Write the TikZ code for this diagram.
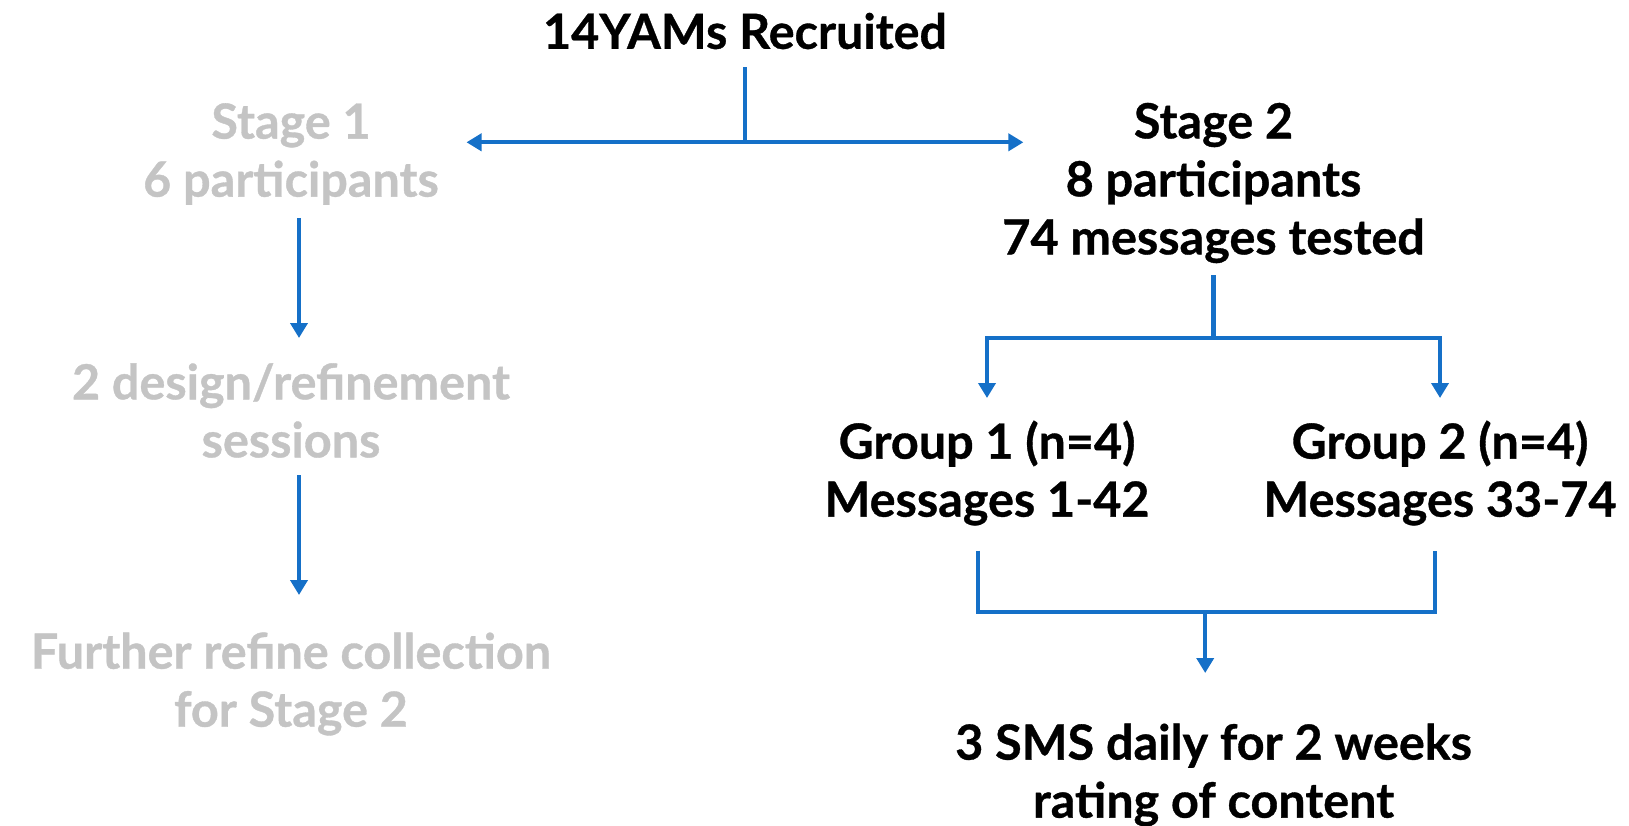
\documentclass[tikz,border=0pt]{standalone}
\usepackage{fontspec}
\setmainfont{Lato}[BoldFeatures={FakeBold=0.7}]
\usetikzlibrary{arrows.meta}
\definecolor{flowblue}{HTML}{1570C8}
\definecolor{fadegrey}{HTML}{C4C4C4}
\tikzset{
  txt/.style={font=\fontsize{48.5}{58}\selectfont\bfseries, align=center, inner sep=0pt},
  faded/.style={txt, text=fadegrey},
  conn/.style={draw=flowblue, line width=4.2pt},
  arr/.style={conn, -{Triangle[width=17pt,length=15pt]}},
  darr/.style={conn, {Triangle[width=17pt,length=15pt]}-{Triangle[width=17pt,length=15pt]}}
}
\begin{document}
\begin{tikzpicture}[x=1pt,y=-1pt]
\useasboundingbox (0,0) rectangle (1629,826);
\node[txt] (title) at (745,31) {14YAMs Recruited};
\node[faded] (s1) at (291,154) {Stage 1\\6 participants};
\node[faded] (s1b) at (291,410.5) {2 design/refinement\\sessions};
\node[faded] (s1c) at (291,684) {Further refine collection\\for Stage 2};
\node[txt] (s2) at (1213.5,183) {Stage 2\\8 participants\\74 messages tested};
\node[txt] (g1) at (987,473) {Group 1 (n=4)\\Messages 1-42};
\node[txt] (g2) at (1440,473) {Group 2 (n=4)\\Messages 33-74};
\node[txt] (sms) at (1213.5,775) {3 SMS daily for 2 weeks\\rating of content};
% top split
\coordinate (t0) at (745,67.5);
\coordinate (tj) at (745,142.3);
\coordinate (tl) at (466.5,142.3);
\coordinate (tr) at (1023.4,142.3);
\draw[conn] (t0) -- (tj);
\draw[darr] (tl) -- (tr);
% stage 1 chain
\coordinate (a1s) at (299,218);
\coordinate (a1e) at (299,338);
\coordinate (a2s) at (299,475);
\coordinate (a2e) at (299,595);
\draw[arr] (a1s) -- (a1e);
\draw[arr] (a2s) -- (a2e);
% stage 2 split
\coordinate (b0) at (1213.5,275);
\coordinate (bj) at (1213.5,337.7);
\coordinate (bl) at (987,337.7);
\coordinate (br) at (1440,337.7);
\coordinate (bl2) at (987,398);
\coordinate (br2) at (1440,398);
\draw[conn] (b0) -- (bj);
\draw[arr, line join=miter] (bj) -- (bl) -- (bl2);
\draw[arr, line join=miter] (bj) -- (br) -- (br2);
% merge
\coordinate (m1) at (977.7,550.7);
\coordinate (m2) at (1434.8,550.7);
\coordinate (mj) at (1205.2,612);
\coordinate (me) at (1205.2,673);
\draw[conn, line join=miter] (m1) -- (977.7,612) -- (1434.8,612) -- (m2);
\draw[arr] (mj) -- (me);
\end{tikzpicture}
\end{document}
